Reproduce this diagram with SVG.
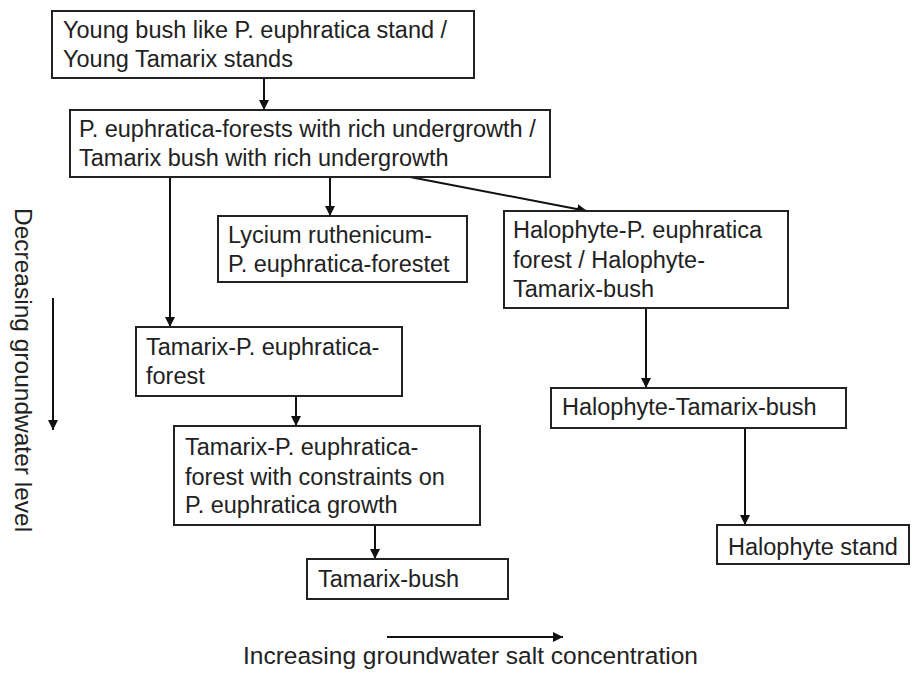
<svg xmlns="http://www.w3.org/2000/svg" width="912" height="673" viewBox="0 0 912 673">
<style>
.box{fill:#fff;stroke:#222;stroke-width:2}
.t{font-family:"Liberation Sans",Arial,sans-serif;font-size:23.5px;fill:#222}
.lbl{font-family:"Liberation Sans",Arial,sans-serif;font-size:24.5px;fill:#222}
.c{stroke:#111;stroke-width:2;fill:none;marker-end:url(#ah)}
</style>
<defs>
<marker id="ah" viewBox="0 0 10 10" refX="10" refY="5" markerWidth="5" markerHeight="5" orient="auto" markerUnits="strokeWidth">
<path d="M0,0 L10,5 L0,10 z" fill="#111"/>
</marker>
</defs>
<rect width="912" height="673" fill="#fff"/>
<g id="connectors">
<line class="c" x1="264" y1="78" x2="264" y2="110"/>
<line class="c" x1="170" y1="177" x2="170" y2="327"/>
<line class="c" x1="330" y1="177" x2="330" y2="216"/>
<line class="c" x1="410" y1="177" x2="587" y2="211"/>
<line class="c" x1="296" y1="396" x2="296" y2="426"/>
<line class="c" x1="375" y1="525" x2="375" y2="559"/>
<line class="c" x1="646" y1="308" x2="646" y2="388"/>
<line class="c" x1="745" y1="428" x2="745" y2="525"/>
<line class="c" x1="53" y1="298" x2="53" y2="430"/>
<line class="c" x1="387" y1="637" x2="563" y2="637"/>
</g>
<g id="n1"><rect class="box" x="52" y="11" width="422" height="67"/>
<text class="t" x="63" y="38">Young bush like P. euphratica stand /</text>
<text class="t" x="63" y="67">Young Tamarix stands</text></g>
<g id="n2"><rect class="box" x="70" y="110" width="480" height="67"/>
<text class="t" x="79" y="137">P. euphratica-forests with rich undergrowth /</text>
<text class="t" x="79" y="166">Tamarix bush with rich undergrowth</text></g>
<g id="n3"><rect class="box" x="218" y="216" width="249" height="66"/>
<text class="t" x="228" y="243">Lycium ruthenicum-</text>
<text class="t" x="228" y="272">P. euphratica-forestet</text></g>
<g id="n4"><rect class="box" x="504" y="211" width="284" height="97"/>
<text class="t" x="513" y="238">Halophyte-P. euphratica</text>
<text class="t" x="513" y="268">forest / Halophyte-</text>
<text class="t" x="513" y="297">Tamarix-bush</text></g>
<g id="n5"><rect class="box" x="136" y="327" width="266" height="69"/>
<text class="t" x="146" y="355">Tamarix-P. euphratica-</text>
<text class="t" x="146" y="384">forest</text></g>
<g id="n6"><rect class="box" x="174" y="426" width="306" height="99"/>
<text class="t" x="185" y="455">Tamarix-P. euphratica-</text>
<text class="t" x="185" y="485">forest with constraints on</text>
<text class="t" x="185" y="513">P. euphratica growth</text></g>
<g id="n7"><rect class="box" x="307" y="559" width="201" height="40"/>
<text class="t" x="318" y="587">Tamarix-bush</text></g>
<g id="n8"><rect class="box" x="551" y="388" width="295" height="40"/>
<text class="t" x="562" y="415">Halophyte-Tamarix-bush</text></g>
<g id="n9"><rect class="box" x="717" y="525" width="192" height="39"/>
<text class="t" x="728" y="555">Halophyte stand</text></g>
<text class="lbl" transform="translate(15,208) rotate(90)">Decreasing groundwater level</text>
<text class="lbl" x="243" y="664">Increasing groundwater salt concentration</text>
</svg>
